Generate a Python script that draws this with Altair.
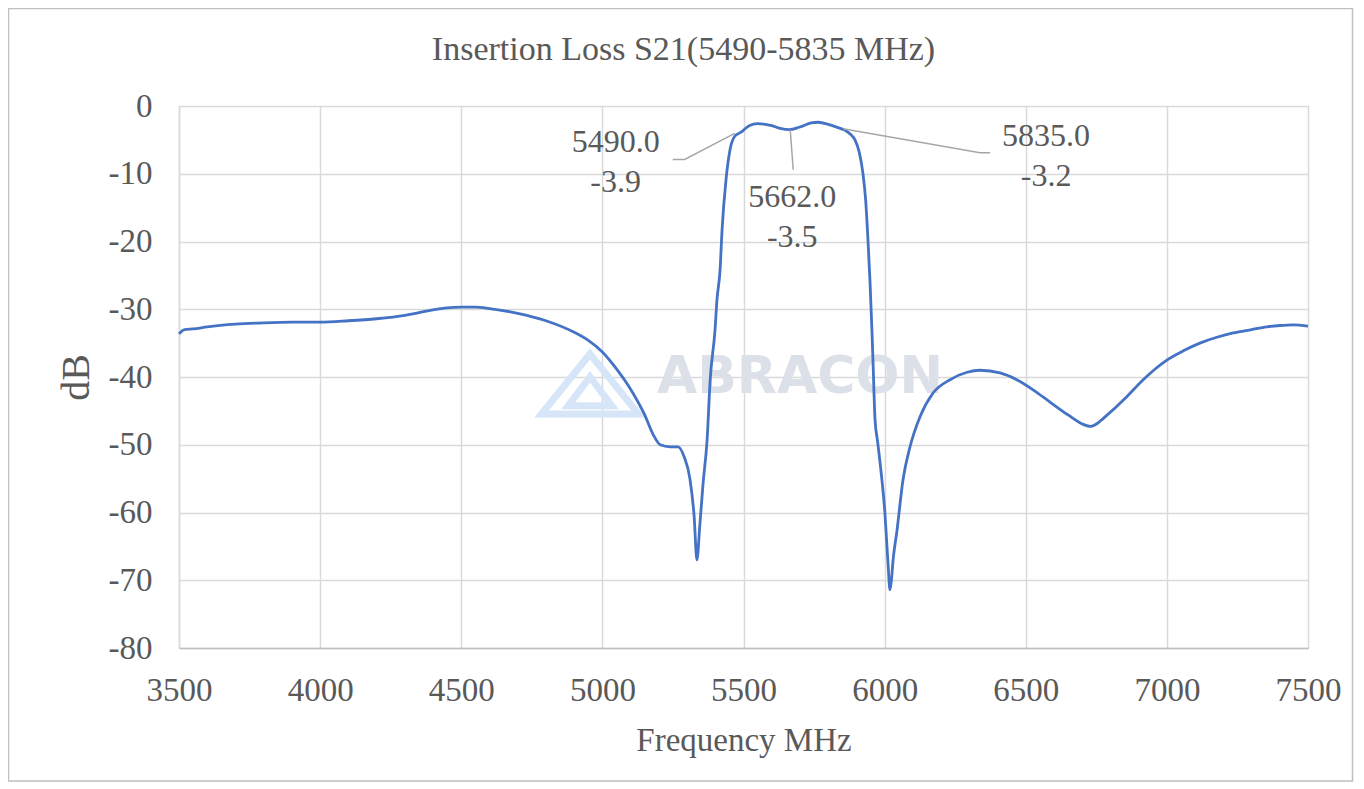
import altair as alt
import pandas as pd

# ---- data ----
freq_mhz = [3500, 3520, 3550, 3600, 3700, 3800, 3900, 4000, 4100, 4200, 4300, 4350,
            4400, 4450, 4500, 4550, 4600, 4700, 4800, 4900, 4950, 5000, 5050, 5100,
            5150, 5180, 5205, 5240, 5268, 5290, 5310, 5325, 5335, 5345, 5357, 5371,
            5382, 5399, 5406, 5417, 5424, 5438, 5452, 5470, 5490, 5520, 5550, 5600,
            5630, 5662, 5700, 5740, 5765, 5800, 5835, 5860, 5880, 5895, 5910, 5923,
            5933, 5941, 5948, 5955, 5959, 5966, 5975, 5984, 6001, 6012, 6019, 6024,
            6030, 6044, 6065, 6090, 6125, 6171, 6232, 6292, 6338, 6409, 6468, 6530,
            6586, 6650, 6704, 6728, 6752, 6775, 6858, 6916, 7000, 7060,
            7117, 7180, 7235, 7300, 7354, 7400, 7447, 7500]
s21_db = [-33.6, -33.0, -32.9, -32.6, -32.2, -32.0, -31.9, -31.9, -31.7, -31.4, -30.9, -30.5,
          -30.1, -29.8, -29.7, -29.7, -29.9, -30.6, -31.7, -33.4, -34.6, -36.3, -38.8, -41.8,
          -45.6, -48.5, -50.0, -50.3, -50.3, -51.8, -55.0, -60.5, -67.0, -62.0, -55.6, -49.3,
          -40.4, -33.1, -28.6, -24.2, -18.3, -10.9, -6.5, -4.4, -3.9, -2.9, -2.6, -2.9,
          -3.3, -3.5, -3.1, -2.5, -2.4, -2.7, -3.2, -3.6, -4.2, -5.0, -6.8, -9.9,
          -14.0, -19.8, -25.7, -33.1, -37.9, -46.3, -49.5, -52.7, -60.1, -67.5, -71.4, -70.0,
          -67.0, -62.6, -55.2, -50.3, -45.9, -42.4, -40.4, -39.3, -39.0, -39.4, -40.4, -42.0,
          -43.7, -45.6, -47.0, -47.3, -46.9, -46.1, -42.9, -40.4, -37.5, -36.1,
          -35.0, -34.1, -33.5, -33.0, -32.6, -32.4, -32.3, -32.5]

marker_freq = [5490.0, 5662.0, 5835.0]
marker_db = [-3.9, -3.5, -3.2]

x_ticks = [3500, 4000, 4500, 5000, 5500, 6000, 6500, 7000, 7500]
y_ticks = [0, -10, -20, -30, -40, -50, -60, -70, -80]

chart_title = "Insertion Loss S21(5490-5835 MHz)"
x_title = "Frequency MHz"
y_title = "dB"
watermark = "ABRACON"

# ---- layout / style ----
W, H = 1129, 542
PX_PER_MHZ = W / 4000.0
PX_PER_DB = H / 80.0
SERIF = "Liberation Serif"
TXT = "#595959"

# label offsets (pixels) relative to the marked point
label_offsets = [(-125, 10), (3, 67), (208, 8)]
leader_offsets = [[(-6, 1), (-56, 27), (-68, 27)],
                  [(1, 0), (4, 40)],
                  [(5, 1), (142, 25), (152, 25)]]

curve = pd.DataFrame({"f": freq_mhz, "db": s21_db})

x_scale = alt.Scale(domain=[3500, 7500], nice=False, zero=False)
y_scale = alt.Scale(domain=[-80, 0], nice=False, zero=False)

x_axis = alt.Axis(values=x_ticks, title=x_title, grid=True, ticks=False, tickSize=0,
                  labelExpr="'' + datum.value", labelFlush=False,
                  labelFont=SERIF, labelFontSize=33, labelColor=TXT, labelPadding=26,
                  labelBaseline="top",
                  titleFont=SERIF, titleFontSize=33, titleFontWeight="normal", titleColor=TXT,
                  titleBaseline="alphabetic", titleY=102,
                  gridColor="#d9d9d9", gridWidth=1.5, domainColor="#bfbfbf", domainWidth=1.5)
y_axis = alt.Axis(values=y_ticks, title=y_title, grid=True, ticks=False, tickSize=0,
                  labelExpr="'' + datum.value", labelFlush=False,
                  labelFont=SERIF, labelFontSize=33, labelColor=TXT, labelPadding=27,
                  titleFont=SERIF, titleFontSize=40, titleFontWeight="normal", titleColor=TXT,
                  titleAngle=270, titleAlign="center", titleBaseline="alphabetic",
                  titleX=-91, titleY=H / 2,
                  gridColor="#d9d9d9", gridWidth=1.5, domainColor="#d9d9d9", domainWidth=1.5)

line = alt.Chart(curve).mark_line(color="#4472C4", strokeWidth=2.8, interpolate="monotone").encode(
    x=alt.X("f:Q", scale=x_scale, axis=x_axis),
    y=alt.Y("db:Q", scale=y_scale, axis=y_axis),
)

# leader lines (grey), built from the marked points and pixel offsets
rows = []
for i, (mf, md) in enumerate(zip(marker_freq, marker_db)):
    for j, (ox, oy) in enumerate(leader_offsets[i]):
        rows.append({"id": i, "seq": j, "f": mf + ox / PX_PER_MHZ, "db": md - oy / PX_PER_DB})
leaders = alt.Chart(pd.DataFrame(rows)).mark_line(color="#a6a6a6", strokeWidth=1.5).encode(
    x=alt.X("f:Q", scale=x_scale),
    y=alt.Y("db:Q", scale=y_scale),
    detail="id:N",
    order="seq:Q",
)

labels = []
for i, (mf, md) in enumerate(zip(marker_freq, marker_db)):
    df = pd.DataFrame({"f": [mf], "db": [md], "t": [f"{mf:.1f}\n{md:.1f}"]})
    dx, dy = label_offsets[i]
    labels.append(
        alt.Chart(df).mark_text(font=SERIF, fontSize=32, color=TXT, align="center",
                                baseline="middle", lineBreak="\n", lineHeight=40,
                                dx=dx, dy=dy).encode(
            x=alt.X("f:Q", scale=x_scale),
            y=alt.Y("db:Q", scale=y_scale),
            text="t:N",
        )
    )

one = pd.DataFrame({"a": [0]})
logo = alt.Chart(one).mark_point(
    shape="M0,-0.62L1,0.62L-1,0.62Z M0,-0.15L0.45,0.45L-0.45,0.45Z",
    size=9409, filled=False, stroke="#d6e6f8", strokeWidth=7, opacity=1,
).encode(x=alt.value(411), y=alt.value(278))
wm = alt.Chart(one).mark_text(text=watermark, font="DejaVu Sans", fontWeight="bold", fontSize=52,
                              color="#dce0e8", align="center", baseline="middle").encode(
    x=alt.value(621), y=alt.value(271))

title_mark = alt.Chart(one).mark_text(text=chart_title, font=SERIF, fontSize=34, color=TXT,
                                      align="center", baseline="alphabetic").encode(
    x=alt.value(504.5), y=alt.value(-46))

frame = alt.Chart(one).mark_rect(fillOpacity=0, stroke="#bfbfbf", strokeWidth=1.5).encode(
    x=alt.value(-170.5), x2=alt.value(1173.5), y=alt.value(-97.5), y2=alt.value(675))

chart = alt.layer(frame, logo, wm, line, leaders, *labels, title_mark).properties(
    width=W, height=H,
    autosize=alt.AutoSizeParams(type="none"),
    padding={"left": 171, "top": 98, "right": 46, "bottom": 135},
).configure_view(strokeWidth=0).configure(background="white")

chart.save("out.html", embed_options={"renderer": "svg", "actions": False})
